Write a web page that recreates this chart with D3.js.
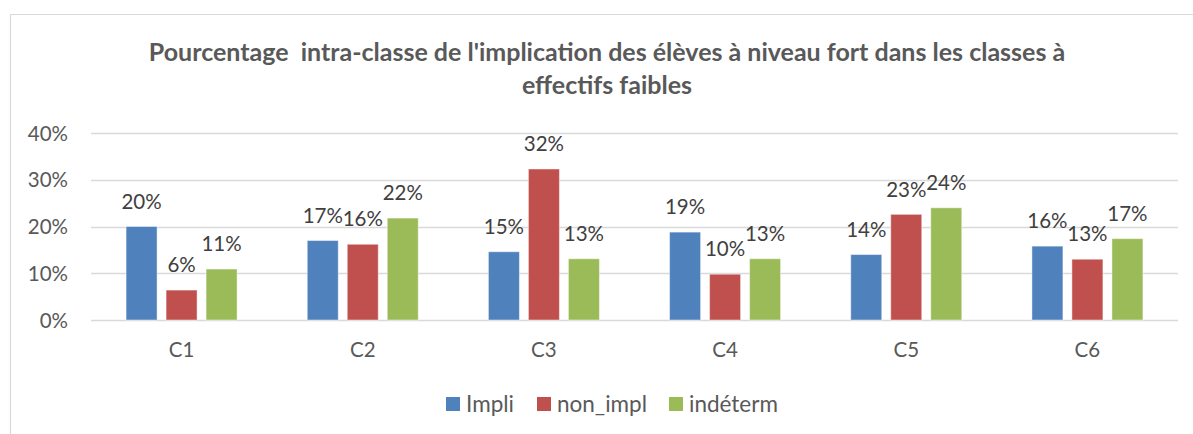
<!DOCTYPE html>
<html>
<head>
<meta charset="utf-8">
<script src="https://cdn.jsdelivr.net/npm/d3@7"></script>
<style>
  body { margin: 0; background: #fff; }
  svg { display: block; font-family: Lato, "Open Sans", sans-serif; }
</style>
</head>
<body>
<svg id="chart" width="1193" height="434"></svg>
<script>
const categories = ["C1", "C2", "C3", "C4", "C5", "C6"];
const seriesNames = ["Impli", "non_impl", "indéterm"];
const impli = [0.200, 0.170, 0.146, 0.188, 0.140, 0.158];
const nonImpl = [0.064, 0.162, 0.323, 0.098, 0.226, 0.130];
const indeterm = [0.109, 0.218, 0.131, 0.131, 0.240, 0.174];
const colors = ["#4F81BD", "#C0504D", "#9BBB59"];
const yTicks = [0, 0.1, 0.2, 0.3, 0.4];
const titleLines = ["Pourcentage  intra-classe de l'implication des élèves à niveau fort dans les classes à", "effectifs faibles"];

const seriesValues = [impli, nonImpl, indeterm];
const svg = d3.select("#chart");

// frame
svg.append("line").attr("x1", 10).attr("x2", 1193).attr("y1", 14.5).attr("y2", 14.5)
  .attr("stroke", "#d9d9d9").attr("stroke-width", 1.2);
svg.append("line").attr("x1", 10.5).attr("x2", 10.5).attr("y1", 14).attr("y2", 434)
  .attr("stroke", "#d9d9d9").attr("stroke-width", 1.2);

// title
const title = svg.append("text").attr("text-anchor", "middle")
  .attr("fill", "#595959").attr("font-weight", "bold").attr("font-size", 25)
  .style("white-space", "pre");
titleLines.forEach((t, i) => {
  title.append("tspan").attr("x", 607).attr("y", 61 + i * 33).text(t);
});

const x0 = 91, x1 = 1178, yTop = 133, yBot = 320;
const x = d3.scaleBand().domain(categories).range([x0, x1]).paddingInner(0).paddingOuter(0);
const y = d3.scaleLinear().domain([0, 0.4]).range([yBot, yTop]);
const xs = d3.scaleBand().domain(seriesNames).range([0, 111]).paddingInner(0.225).paddingOuter(0);

// gridlines
svg.append("g").selectAll("line").data(yTicks).join("line")
  .attr("x1", x0).attr("x2", x1)
  .attr("y1", d => Math.round(y(d)) + 0.5).attr("y2", d => Math.round(y(d)) + 0.5)
  .attr("stroke", "#d9d9d9").attr("stroke-width", 1.5);

// y axis labels
const yAxis = d3.axisLeft(y).tickValues(yTicks).tickFormat(d3.format(".0%")).tickSize(0).tickPadding(0);
const gy = svg.append("g").attr("transform", "translate(68,0)").call(yAxis);
gy.select(".domain").remove();
gy.selectAll("text").attr("fill", "#595959").attr("font-size", 20.5)
  .attr("font-family", "Lato, sans-serif").attr("dy", "0.35em");

// x axis labels
const xAxis = d3.axisBottom(x).tickSize(0).tickPadding(0);
const gx = svg.append("g").attr("transform", "translate(0,343)").call(xAxis);
gx.select(".domain").remove();
gx.selectAll("text").attr("fill", "#595959").attr("font-size", 20.5)
  .attr("font-family", "Lato, sans-serif").attr("dy", "0.35em").attr("y", 7);

// bars
const groups = svg.append("g").selectAll("g").data(categories).join("g")
  .attr("transform", d => `translate(${x(d) + x.bandwidth() / 2 - 55.5},0)`);

groups.each(function(cat, ci) {
  const g = d3.select(this);
  seriesNames.forEach((s, si) => {
    const v = seriesValues[si][ci];
    g.append("rect")
      .attr("x", xs(s)).attr("width", xs.bandwidth())
      .attr("y", y(v)).attr("height", yBot - y(v))
      .attr("fill", colors[si])
      .attr("stroke", "#ffffff").attr("stroke-opacity", 0.45).attr("stroke-width", 1);
    g.append("text")
      .attr("x", xs(s) + xs.bandwidth() / 2)
      .attr("y", y(v) - 25).attr("dy", "0.35em")
      .attr("text-anchor", "middle").attr("fill", "#404040").attr("font-size", 20.5)
      .text(d3.format(".0%")(v));
  });
});

// legend
const legendX = [446, 537, 669];
const lg = svg.append("g").selectAll("g").data(seriesNames).join("g")
  .attr("transform", (d, i) => `translate(${legendX[i]},397)`);
lg.append("rect").attr("width", 14).attr("height", 14).attr("fill", (d, i) => colors[i]);
lg.append("text").attr("x", 20).attr("y", 7).attr("dy", "0.35em")
  .attr("fill", "#595959").attr("font-size", 22.5).text(d => d);
</script>
</body>
</html>
